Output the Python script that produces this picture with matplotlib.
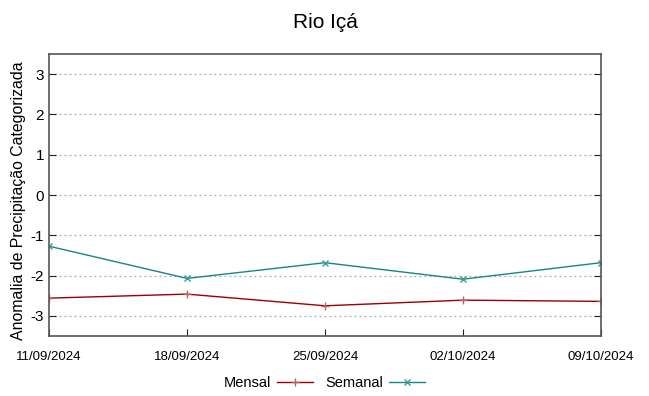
import matplotlib.pyplot as plt
import numpy as np
from datetime import datetime

plt.rcParams['font.family'] = ['Liberation Sans', 'DejaVu Sans']
plt.rcParams['axes.unicode_minus'] = False

# data
dates = ["11/09/2024", "18/09/2024", "25/09/2024", "02/10/2024", "09/10/2024"]
mensal = [-2.56, -2.46, -2.75, -2.61, -2.64]
semanal = [-1.27, -2.07, -1.68, -2.09, -1.68]
yticks = [-3, -2, -1, 0, 1, 2, 3]

x = [datetime.strptime(d, "%d/%m/%Y") for d in dates]

fig = plt.figure(figsize=(6.49, 3.96), dpi=100)
ax = fig.add_axes([0.0755, 0.1515, 0.8505, 0.7121])

ax.plot(x, mensal, color="#990000", lw=1, marker="+", ms=6, mew=1,
        markeredgecolor="#c06060", label="Mensal")
ax.plot(x, semanal, color="#1a8585", lw=1, marker="x", ms=4.5, mew=1,
        markeredgecolor="#3a9a9a", label="Semanal")

ax.set_xlim(x[0], x[-1])
ax.set_ylim(-3.5, 3.5)
ax.set_yticks(yticks)
ax.set_xticks(x)
ax.set_xticklabels(dates, fontsize=9.5, family=['Liberation Sans Narrow', 'Liberation Sans'])
ax.tick_params(axis='y', labelsize=11, direction='in', right=True, length=5, color='#222222')
ax.tick_params(axis='x', direction='in', top=False, length=5, pad=11, color='#222222')
ax.yaxis.grid(True, ls=(0, (1.5, 2.5)), color='#aaaaaa', lw=0.9)
for s in ax.spines.values():
    s.set_color('#555555')
    s.set_linewidth(1.2)

ax.set_ylabel("Anomalia de Precipitação Categorizada", fontsize=11.4)
ax.yaxis.set_label_coords(-0.042, 0.48)
ax.set_title("Rio Içá", fontsize=15, pad=19)

fig.legend(loc='center', bbox_to_anchor=(0.5, 0.032), ncol=2, frameon=False,
           markerfirst=False, fontsize=10.5, handlelength=2.5, columnspacing=0.8,
           handletextpad=0.4)

fig.savefig("out.png", dpi=100)
